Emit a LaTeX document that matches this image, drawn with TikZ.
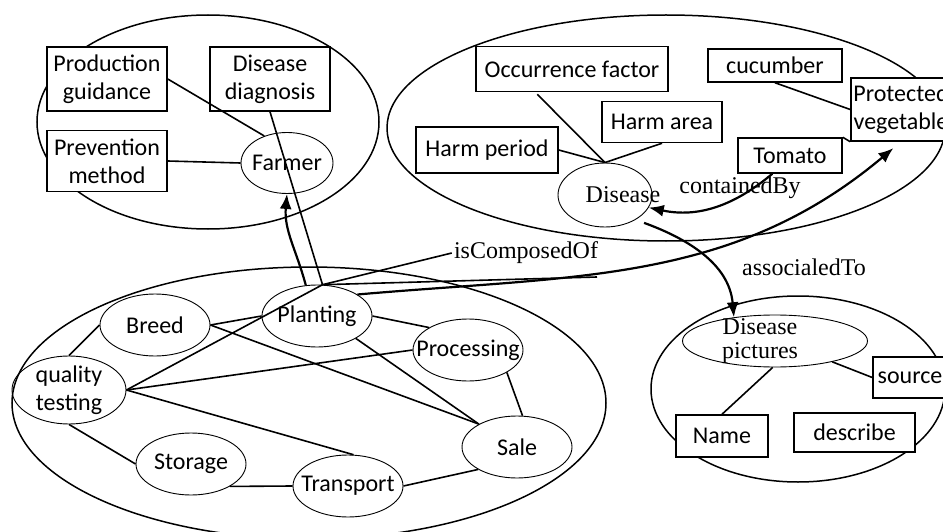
\documentclass[tikz,border=0pt]{standalone}
\usepackage{fontspec}
\setmainfont{Carlito}
\newfontfamily\tnr{Liberation Serif}
\usetikzlibrary{shapes.geometric,arrows.meta}
\newcommand\boxfont{\fontsize{24pt}{28pt}\selectfont}
\newcommand\relfont{\tnr\fontsize{24pt}{24pt}\selectfont}

\begin{document}
\begin{tikzpicture}[x=1pt,y=1pt,font=\boxfont]
\tikzstyle{grp}=[ellipse, draw=black, line width=1.5pt, inner sep=0pt]
\tikzstyle{oval}=[ellipse, draw=black, line width=0.9pt, inner sep=0pt, minimum width=110pt, minimum height=62pt]
\tikzstyle{sqr}=[rectangle, draw=black, line width=1.5pt, fill=white, inner sep=0pt, align=center]
\tikzstyle{rel}=[font=\relfont, inner sep=2pt]
\tikzstyle{link}=[line width=1.6pt]
\tikzstyle{connect}=[-{Latex[length=15pt,width=12pt]}, line width=2.2pt]

\useasboundingbox (0,0) rectangle (943,-532);

% 1. Groups
%%%%%%%%%%
\node[grp, minimum width=342pt, minimum height=214pt] (farmgrp) at (208,-122) {};
\node[grp, minimum width=558pt, minimum height=226pt] (disgrp) at (666,-128) {};
\node[grp, minimum width=594pt, minimum height=272pt] (prodgrp) at (309,-403) {};
\node[grp, minimum width=294pt, minimum height=186pt] (picgrp) at (798,-389) {};

% 2. Nodes
%%%%%%%%%%
\node[sqr, minimum width=120pt, minimum height=64pt] (guide) at (107,-79) {Production\\guidance};
\node[sqr, minimum width=120pt, minimum height=64pt] (diag) at (270,-79) {Disease\\diagnosis};
\node[sqr, minimum width=120pt, minimum height=61pt] (prev) at (107,-161) {Prevention\\method};
\node[oval, minimum width=92pt, minimum height=61pt, label=center:Farmer] (farmer) at (287,-163) {};

\node[sqr, minimum width=192pt, minimum height=45pt] (occur) at (572,-69) {Occurrence factor};
\node[sqr, minimum width=120pt, minimum height=41pt] (harea) at (662,-122) {Harm area};
\node[sqr, minimum width=142pt, minimum height=46pt] (hperiod) at (487,-150) {Harm period};
\node[sqr, minimum width=134pt, minimum height=33pt] (cucum) at (775,-65.5) {cucumber};
\node[sqr, minimum width=100pt, minimum height=63pt] (pv) at (901,-109.5) {Protected\\vegetable};
\node[sqr, minimum width=104pt, minimum height=35pt] (tomato) at (790,-155.5) {Tomato};
\node[oval, minimum width=94pt, minimum height=64pt, label={[rel, xshift=18pt]center:Disease}] (dis) at (605,-195) {};

\node[oval, label=center:Breed] (breed) at (155,-325) {};
\node[oval, label=center:Planting] (plant) at (317,-316) {};
\node[oval, label=center:Processing] (proc) at (468,-350) {};
\node[oval, minimum width=114pt, minimum height=68pt, label={[align=center]center:quality\\testing}] (qt) at (69,-390) {};
\node[oval, label=center:Storage] (stor) at (191,-464) {};
\node[oval, label=center:Transport] (trans) at (348,-486) {};
\node[oval, label=center:Sale] (sale) at (517,-447) {};

\node[oval, minimum width=185pt, minimum height=52pt, label={[rel, align=center, xshift=-15pt]center:Disease\\pictures}] (dpic) at (775,-341) {};
\node[sqr, minimum width=74pt, minimum height=41pt] (source) at (910,-377.5) {source};
\node[sqr, minimum width=92pt, minimum height=42pt] (name) at (722,-436) {Name};
\node[sqr, minimum width=121pt, minimum height=39pt] (descr) at (854.5,-432.5) {describe};

\node[rel] (isc) at (526,-253) {isComposedOf};
\node[rel] (ctb) at (740,-188) {containedBy};
\node[rel] (asc) at (804,-267) {associaledTo};
\coordinate (ise) at (597,-277);

% 3. Lines
%%%%%%%%%%
\path (guide.east)   edge [link] (farmer.130)
      (prev.east)    edge [link] (farmer.west)
      (diag.south)   edge [link] (plant.80)
      (qt.east)      edge [link] (plant.80)
      (plant.80)     edge [link] (isc.west)
      (plant.80)     edge [link] (ise)
      (occur.south west) ++(62,-2) coordinate (occ) edge [link] (dis.north)
      (hperiod.east) edge [link] (dis.north)
      (harea.south)  edge [link] (dis.north)
      (cucum.south)  edge [link] (pv.west)
      (tomato.north east) edge [link] (pv.south west)
      (qt.north)     edge [link] (breed.west)
      (breed.east)   edge [link] (plant.west)
      (breed.east)   edge [link] (sale.149)
      (plant.east)   edge [link] (proc.150)
      (plant.-30)    edge [link] (sale.149)
      (qt.east)      edge [link] (proc.west)
      (qt.east)      edge [link] (trans.80)
      (qt.south)     edge [link] (stor.west)
      (stor.-30)     edge [link] (trans.west)
      (trans.east)   edge [link] (sale.210)
      (proc.-30)     edge [link] (sale.80)
      (dpic.-95)     edge [link] (name.north)
      (dpic.-20)     edge [link] (source.west);

% 4. Arrows
%%%%%%%%%%%
\path (plant.110)    edge [connect, out=105, in=-95] (farmer.south)
      (plant.28)     edge [connect, out=5, in=-140, shorten >=10pt] (pv.south)
      (tomato.-134)  edge [connect, out=-140, in=-12] (dis.-16)
      (dis.-39)      edge [connect, out=-20, in=95, shorten <=9pt] (dpic.150);

\end{tikzpicture}
\end{document}
